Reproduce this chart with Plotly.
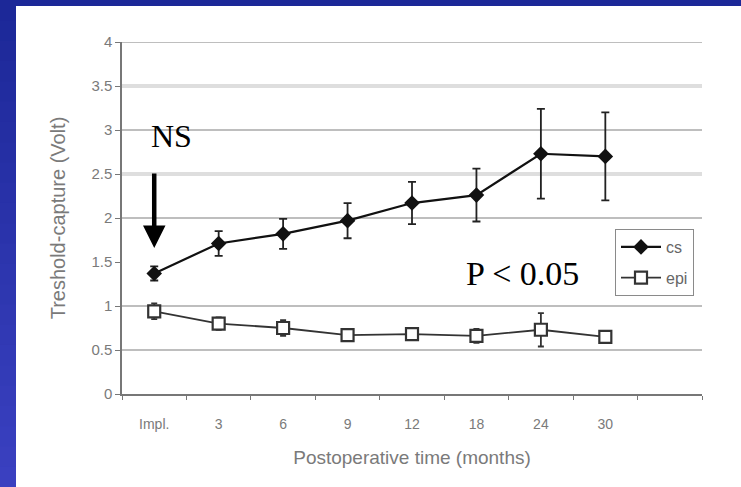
import plotly.graph_objects as go

# ---- data ----
categories = ["Impl.", "3", "6", "9", "12", "18", "24", "30"]
cs_values = [1.37, 1.71, 1.82, 1.97, 2.17, 2.26, 2.73, 2.70]
cs_err = [0.08, 0.14, 0.17, 0.20, 0.24, 0.30, 0.51, 0.50]
epi_values = [0.94, 0.80, 0.75, 0.67, 0.68, 0.66, 0.73, 0.65]
epi_err = [0.09, 0.07, 0.09, 0.03, 0.06, 0.08, 0.19, 0.0]
y_ticks = [0, 0.5, 1, 1.5, 2, 2.5, 3, 3.5, 4]
grid_dark = [0.5, 1, 2, 3, 4]
grid_light = [2.5, 3.5]

W, H = 741, 487
L, R, T, B = 122, 39, 42, 93
pw, ph = W - L - R, H - T - B

def px_x(p):
    return (p - L) / pw

def px_y(p):
    return (H - B - p) / ph

xpos = list(range(len(categories)))
gray = "#7a7a7a"
sans = "Liberation Sans, Arial, sans-serif"
serif = "Liberation Serif, Times New Roman, serif"

fig = go.Figure()
fig.add_trace(go.Scatter(
    x=xpos, y=cs_values, name="cs", mode="lines+markers",
    line=dict(color="#111111", width=2.2),
    marker=dict(symbol="diamond", size=12, color="#111111"),
    error_y=dict(type="data", array=cs_err, color="#222222", thickness=1.8, width=4),
    legendgroup="a",
))
fig.add_trace(go.Scatter(
    x=xpos, y=epi_values, name="epi", mode="lines+markers",
    line=dict(color="#333333", width=1.8),
    marker=dict(symbol="square", size=12, color="white",
                line=dict(color="#333333", width=2.2)),
    error_y=dict(type="data", array=epi_err, color="#333333", thickness=1.8, width=3),
    legendgroup="b",
))

shapes = []
for g in grid_light:
    shapes.append(dict(type="line", xref="paper", yref="y", x0=0, x1=1, y0=g, y1=g,
                       line=dict(color="#dedede", width=4), layer="below"))
for g in grid_dark:
    shapes.append(dict(type="line", xref="paper", yref="y", x0=0, x1=1, y0=g, y1=g,
                       line=dict(color="#a8a8a8", width=1.5), layer="below"))

# blue frame (left gradient strip + top band)
n = 24
c0 = (28, 40, 152)
c1 = (58, 64, 192)
for i in range(n):
    t = i / (n - 1)
    col = "rgb(%d,%d,%d)" % tuple(round(a + (b - a) * t) for a, b in zip(c0, c1))
    y_top = H * i / n
    y_bot = H * (i + 1) / n + 1
    shapes.append(dict(type="rect", xref="paper", yref="paper",
                       x0=px_x(0), x1=px_x(16), y0=px_y(y_bot), y1=px_y(y_top),
                       fillcolor=col, line=dict(width=0), layer="above"))
shapes.append(dict(type="rect", xref="paper", yref="paper",
                   x0=px_x(0), x1=px_x(W), y0=px_y(6), y1=px_y(0),
                   fillcolor="rgb(28,40,152)", line=dict(width=0), layer="above"))

annotations = [
    dict(x=0, y=1.66, xref="x", yref="y", text="", showarrow=True,
         ax=0, ay=-76, arrowhead=2, arrowwidth=4.5, arrowsize=1.0, arrowcolor="black"),
    dict(x=0, y=2.93, xref="x", yref="y", text="NS", showarrow=False, xshift=17,
         font=dict(family=serif, size=32, color="black"), xanchor="center", yanchor="middle"),
    dict(x=5.72, y=1.375, xref="x", yref="y", text="P &lt; 0.05", showarrow=False,
         font=dict(family=serif, size=34, color="black"), xanchor="center", yanchor="middle"),
]

fig.update_layout(
    width=W, height=H,
    margin=dict(l=L, r=R, t=T, b=B, autoexpand=False),
    paper_bgcolor="white", plot_bgcolor="white",
    shapes=shapes, annotations=annotations,
    showlegend=True,
    legend=dict(x=px_x(615), y=px_y(229), xanchor="left", yanchor="top",
                bordercolor="#8a8a8a", borderwidth=1, bgcolor="white",
                font=dict(family=sans, size=16, color="#666666"),
                traceorder="grouped", tracegroupgap=7, itemwidth=40),
    xaxis=dict(range=[-0.5, 8.5], tickmode="array", tickvals=xpos, ticktext=categories,
               automargin=False,
               showgrid=False, zeroline=False, showline=True, linecolor="#777777",
               linewidth=1.5, ticks="", ticklabelstandoff=16,
               tickfont=dict(family=sans, size=14, color=gray),
               minor=dict(tickmode="linear", tick0=-0.5, dtick=1, ticks="outside",
                          ticklen=4, tickcolor="#777777", showgrid=False),
               title=dict(text="Postoperative time (months)", standoff=20,
                          font=dict(family=sans, size=19, color=gray))),
    yaxis=dict(range=[0, 4], tickmode="array", tickvals=y_ticks,
               ticktext=[f"{v:g}" for v in y_ticks], automargin=False,
               showgrid=False, zeroline=False, showline=True, linecolor="#777777",
               linewidth=1.5, ticks="outside", ticklen=5, tickcolor="#777777",
               tickfont=dict(family=sans, size=15, color=gray),
               title=dict(text="Treshold-capture (Volt)", standoff=20,
                          font=dict(family=sans, size=20, color=gray))),
)

fig.write_html("out.html", config={"displayModeBar": False},
               post_script="document.body.style.margin='0';")
